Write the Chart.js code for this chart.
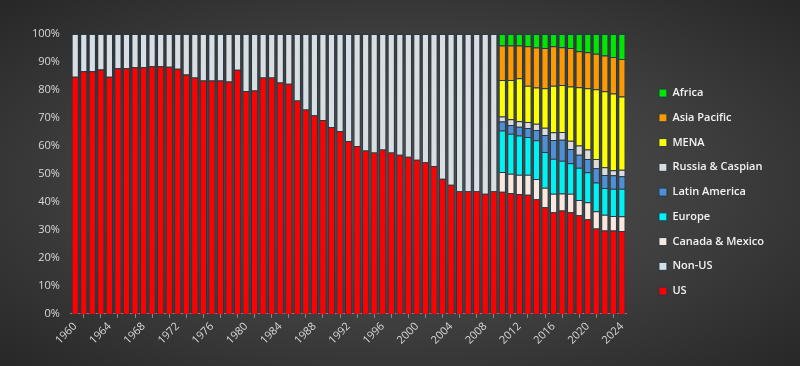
<!DOCTYPE html>
<html>
<head>
<meta charset="utf-8">
<script src="https://cdn.jsdelivr.net/npm/chart.js@4.4.1/dist/chart.umd.min.js"></script>
<style>
html,body{margin:0;padding:0;}
body{
    width:800px;height:366px;overflow:hidden;
    background:radial-gradient(ellipse at 50% 50%, #525252 0%, #3e3e3e 55%, #272727 100%);
}
#caja{width:800px;height:366px;}
</style>
</head>
<body>
<div id="caja"><canvas id="grafico"></canvas></div>
<script>
//categorias
const anios = ['1960','1961','1962','1963','1964','1965','1966','1967','1968','1969',
               '1970','1971','1972','1973','1974','1975','1976','1977','1978','1979',
               '1980','1981','1982','1983','1984','1985','1986','1987','1988','1989',
               '1990','1991','1992','1993','1994','1995','1996','1997','1998','1999',
               '2000','2001','2002','2003','2004','2005','2006','2007','2008','2009',
               '2010','2011','2012','2013','2014','2015','2016','2017','2018','2019',
               '2020','2021','2022','2023','2024'];

//% US 1960-2024
const us = [84.7,86.7,86.7,87.3,84.7,87.8,87.8,88.1,88.1,88.5,
            88.5,88.3,87.6,85.5,84.5,83.4,83.4,83.4,83.0,87.2,
            79.6,79.8,84.5,84.5,82.7,82.2,76.2,73.0,71.0,69.3,
            66.8,65.3,61.8,60.0,58.4,57.7,58.7,57.7,56.9,56.1,
            55.1,54.2,52.8,48.3,46.1,43.8,43.8,43.8,42.9,43.8,
            43.6,43.2,42.8,42.6,41.0,38.1,36.3,36.9,36.3,35.2,
            33.8,30.5,29.8,29.8,29.6];

//% resto del mundo 1960-2009
const noUs = [15.3,13.3,13.3,12.7,15.3,12.2,12.2,11.9,11.9,11.5,
              11.5,11.7,12.4,14.5,15.5,16.6,16.6,16.6,17.0,12.8,
              20.4,20.2,15.5,15.5,17.3,17.8,23.8,27.0,29.0,30.7,
              33.2,34.7,38.2,40.0,41.6,42.3,41.3,42.3,43.1,43.9,
              44.9,45.8,47.2,51.7,53.9,56.2,56.2,56.2,57.1,56.2];

//regiones 2010-2024
const canadaMexico = [7.1,6.9,6.9,7.1,7.2,7.0,6.6,6.1,6.6,5.5,6.1,6.2,5.6,5.2,5.3];
const europa       = [14.8,14.3,14.0,13.5,13.8,12.7,12.5,11.7,10.9,11.5,10.7,10.2,9.6,9.7,9.8];
const latam        = [3.2,3.1,3.2,3.2,3.7,6.1,6.7,7.5,5.1,4.7,4.7,5.1,4.6,4.8,4.5];
const rusiaCaspio  = [1.8,2.0,1.9,2.2,2.2,2.6,2.8,2.8,3.0,3.3,3.4,3.3,2.8,1.8,2.3];
const mena         = [13.1,14.1,15.4,12.9,13.0,14.1,16.6,16.8,19.3,20.8,21.9,25.0,27.1,27.4,26.2];
const asiaPacifico = [12.3,12.3,11.7,14.1,14.3,14.4,14.1,13.5,13.8,12.8,12.9,12.6,12.8,13.1,13.4];
const africa       = [4.1,4.1,4.1,4.4,4.8,5.0,4.4,4.7,5.0,6.2,6.5,7.1,7.7,8.2,8.9];

const ticksY = [0,10,20,30,40,50,60,70,80,90,100];

const antes = new Array(50).fill(null);   // 1960-2009 sin regiones
const despues = new Array(15).fill(null); // 2010-2024 sin "Non-US"

const borde = '#22394a';
const GAP_LEYENDA = 19;

function serie(nombre, datos, color){
    return {label:nombre, data:datos, backgroundColor:color, borderColor:borde, borderWidth:1,
            barPercentage:0.84, categoryPercentage:1};
}

//deja un hueco entre el area del grafico y la leyenda
const huecoLeyenda = {
    id:'huecoLeyenda',
    beforeInit(chart){
        const ley = chart.legend;
        const fitOrig = ley.fit;
        ley.fit = function(){ fitOrig.call(this); this.width += GAP_LEYENDA; };
    },
    afterLayout(chart){
        chart.legend.left += GAP_LEYENDA;
    }
};

Chart.defaults.font.family = "'Open Sans', sans-serif";
Chart.defaults.font.size = 11;
Chart.defaults.color = '#d9d9d9';

let ctx = document.querySelector('#grafico').getContext('2d');
let grafico = new Chart(ctx, {
    type:'bar',
    data:{
        labels:anios,
        datasets:[
            serie('US', us, '#ff0000'),
            serie('Non-US', noUs.concat(despues), '#d9dee3'),
            serie('Canada & Mexico', antes.concat(canadaMexico), '#fbe7dc'),
            serie('Europe', antes.concat(europa), '#00f2f2'),
            serie('Latin America', antes.concat(latam), '#4f8fd6'),
            serie('Russia & Caspian', antes.concat(rusiaCaspio), '#dcdcdc'),
            serie('MENA', antes.concat(mena), '#ffff00'),
            serie('Asia Pacific', antes.concat(asiaPacifico), '#ff9900'),
            serie('Africa', antes.concat(africa), '#00e600')
        ]
    },
    options:{
        responsive:true,
        maintainAspectRatio:false,
        animation:false,
        layout:{padding:{top:34, left:21, right:26, bottom:17}},
        plugins:{
            tooltip:{enabled:false},
            legend:{
                position:'right',
                reverse:true,
                title:{display:true, text:'', padding:0, font:{size:1}},
                labels:{boxWidth:8, boxHeight:8, padding:13.75, color:'#f2f2f2',
                        font:{size:11, weight:'600'}}
            }
        },
        scales:{
            x:{
                stacked:true,
                grid:{display:true, drawOnChartArea:false, color:'#8a8a8a', tickLength:4, offset:true},
                border:{display:true, color:'#8a8a8a'},
                ticks:{
                    autoSkip:false, maxRotation:45, minRotation:45, color:'#d9d9d9', padding:2,
                    callback:function(v, i){
                        if(i % 4 == 0) return anios[i];
                        if(i % 2 == 0) return '';
                        return null;
                    }
                }
            },
            y:{
                stacked:true,
                min:0, max:100,
                grid:{display:false, drawTicks:false, tickLength:0},
                border:{display:false},
                afterBuildTicks:function(eje){ eje.ticks = ticksY.map(v => ({value:v})); },
                ticks:{color:'#d9d9d9', padding:11, callback:(v) => v + '%'}
            }
        }
    },
    plugins:[huecoLeyenda]
});
</script>
</body>
</html>
